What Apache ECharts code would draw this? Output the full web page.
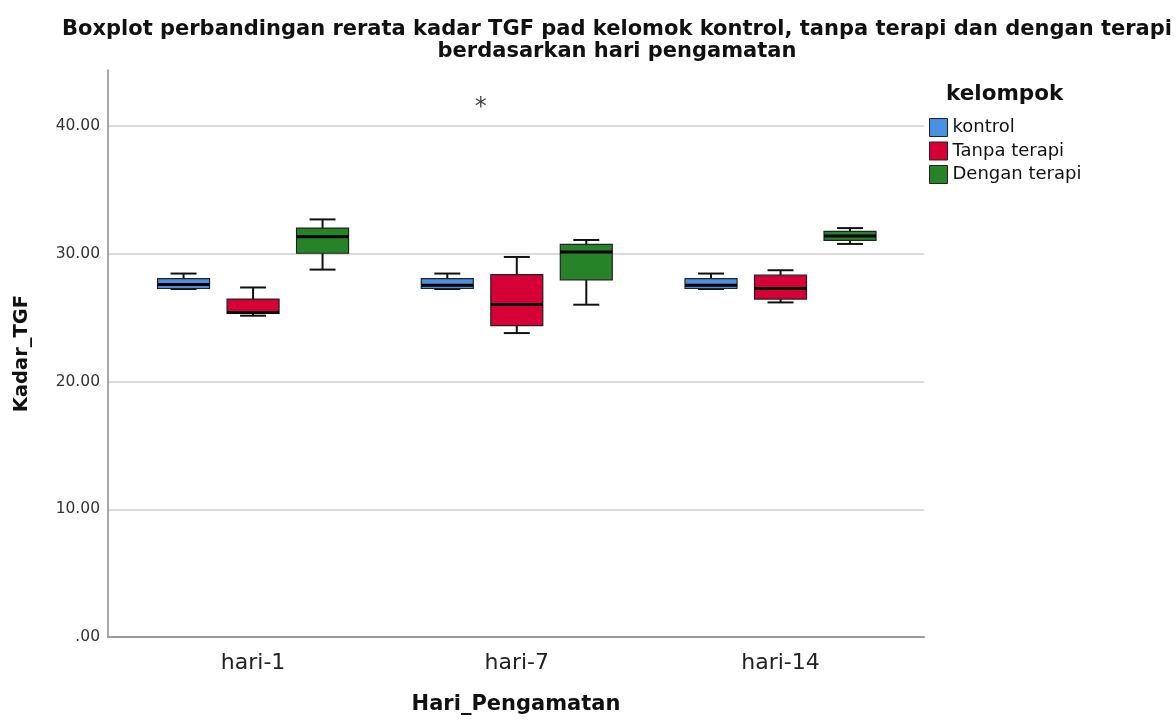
<!DOCTYPE html>
<html>
<head>
<meta charset="utf-8">
<script src="https://cdn.jsdelivr.net/npm/echarts@6/dist/echarts.min.js"></script>
<style>
html, body { margin: 0; padding: 0; background: #fff; }
#main { width: 1176px; height: 720px; }
</style>
</head>
<body>
<div id="main"></div>
<script>
var days = ['hari-1', 'hari-7', 'hari-14'];
var groups = ['kontrol', 'Tanpa terapi', 'Dengan terapi'];
var groupColors = ['#4a90e2', '#d60036', '#278327'];
var yTicks = [0, 10, 20, 30, 40];

// [hari index, min, Q1, median, Q3, max]
var kontrol = [
    [0, 27.25, 27.29, 27.60, 28.07, 28.46],
    [1, 27.25, 27.29, 27.55, 28.07, 28.46],
    [2, 27.25, 27.29, 27.55, 28.07, 28.46]
];
var tanpaTerapi = [
    [0, 25.16, 25.34, 25.42, 26.46, 27.37],
    [1, 23.80, 24.38, 26.04, 28.38, 29.76],
    [2, 26.20, 26.46, 27.29, 28.33, 28.72]
];
var denganTerapi = [
    [0, 28.77, 30.05, 31.34, 32.02, 32.70],
    [1, 26.02, 27.97, 30.15, 30.75, 31.09],
    [2, 30.78, 31.06, 31.40, 31.76, 32.02]
];
// extreme value (*)
var outlierTanpa = [[1, 41.9]];

var groupOffsets = [-69.5, 0, 69.5];

function makeRender(offset)
{
    return function(params, api)
    {
        var x = api.value(0);
        var pMin = api.coord([x, api.value(1)]);
        var pQ1 = api.coord([x, api.value(2)]);
        var pMed = api.coord([x, api.value(3)]);
        var pQ3 = api.coord([x, api.value(4)]);
        var pMax = api.coord([x, api.value(5)]);
        var cx = pMin[0] + offset;
        var hw = 26, cw = 13;
        var line = {stroke: '#111', lineWidth: 2};
        return {
            type: 'group',
            children: [
                {type: 'line', shape: {x1: cx, y1: pMax[1], x2: cx, y2: pQ3[1]}, style: line},
                {type: 'line', shape: {x1: cx, y1: pQ1[1], x2: cx, y2: pMin[1]}, style: line},
                {type: 'line', shape: {x1: cx - cw, y1: pMax[1], x2: cx + cw, y2: pMax[1]}, style: line},
                {type: 'line', shape: {x1: cx - cw, y1: pMin[1], x2: cx + cw, y2: pMin[1]}, style: line},
                {type: 'rect', shape: {x: cx - hw, y: pQ3[1], width: hw * 2, height: pQ1[1] - pQ3[1]},
                    style: {fill: api.visual('color'), stroke: '#222', lineWidth: 1.2}},
                {type: 'line', shape: {x1: cx - hw, y1: pMed[1], x2: cx + hw, y2: pMed[1]},
                    style: {stroke: '#000', lineWidth: 3}}
            ]
        };
    };
}

var groupData = [kontrol, tanpaTerapi, denganTerapi];
var series = [];
groupData.forEach(function(d, i) {
    series.push({
        name: groups[i],
        type: 'custom',
        renderItem: makeRender(groupOffsets[i]),
        itemStyle: {color: groupColors[i], borderColor: '#222', borderWidth: 1},
        encode: {x: 0, y: [1, 2, 3, 4, 5]},
        data: d,
        z: 3
    });
});
series.push({
    name: 'ekstrem',
    type: 'scatter',
    data: outlierTanpa,
    symbolSize: 2,
    itemStyle: {color: 'rgba(0,0,0,0)'},
    label: {
        show: true,
        formatter: '*',
        position: 'inside',
        offset: [-36, 6],
        color: '#111',
        fontSize: 24,
        fontFamily: 'DejaVu Sans'
    },
    z: 4
});

var option = {
    backgroundColor: '#fff',
    animation: false,
    title: [
        {
            text: 'Boxplot perbandingan rerata kadar TGF pad kelomok kontrol, tanpa terapi dan dengan terapi\nberdasarkan hari pengamatan',
            left: 612,
            top: 14,
            textAlign: 'center',
            textStyle: {fontFamily: 'DejaVu Sans', fontSize: 21, fontWeight: 'bold', color: '#111', lineHeight: 22}
        },
        {
            text: 'kelompok',
            left: 941,
            top: 78,
            textStyle: {fontFamily: 'DejaVu Sans', fontSize: 21.5, fontWeight: 'bold', color: '#111'}
        }
    ],
    legend: {
        data: groups,
        orient: 'vertical',
        left: 924,
        top: 113,
        itemWidth: 18,
        itemHeight: 18,
        itemGap: 4.5,
        icon: 'rect',
        itemStyle: {borderColor: '#222', borderWidth: 1},
        textStyle: {fontFamily: 'DejaVu Sans', fontSize: 18, color: '#111'}
    },
    grid: {left: 108, right: 252, top: 70, bottom: 80},
    xAxis: {
        type: 'value',
        min: -0.55,
        max: 2.544,
        name: 'Hari_Pengamatan',
        nameLocation: 'middle',
        nameGap: 57,
        nameTextStyle: {fontFamily: 'DejaVu Sans', fontSize: 21, fontWeight: 'bold', color: '#111'},
        axisLine: {show: true, lineStyle: {color: '#999', width: 2}},
        axisTick: {show: false},
        splitLine: {show: false},
        axisLabel: {
            customValues: [0, 1, 2],
            formatter: function(v) { return days[Math.round(v)]; },
            fontFamily: 'DejaVu Sans',
            fontSize: 22,
            color: '#222',
            margin: 15
        }
    },
    yAxis: {
        type: 'value',
        min: 0,
        max: 44.4,
        interval: 10,
        name: 'Kadar_TGF',
        nameLocation: 'middle',
        nameRotate: 90,
        nameGap: 76,
        nameTextStyle: {fontFamily: 'DejaVu Sans', fontSize: 19.5, fontWeight: 'bold', color: '#111'},
        axisLine: {show: true, onZero: false, lineStyle: {color: '#888', width: 1.5}},
        axisTick: {show: false},
        splitLine: {show: true, showMaxLine: false, lineStyle: {color: '#cfcfcf', width: 1.5}},
        axisLabel: {
            customValues: yTicks,
            formatter: function(v) { return v === 0 ? '.00' : v.toFixed(2); },
            fontFamily: 'DejaVu Sans',
            fontSize: 15.5,
            color: '#333',
            margin: 8
        }
    },
    series: series
};

var myChart = echarts.init(document.getElementById('main'));
myChart.setOption(option);
</script>
</body>
</html>
